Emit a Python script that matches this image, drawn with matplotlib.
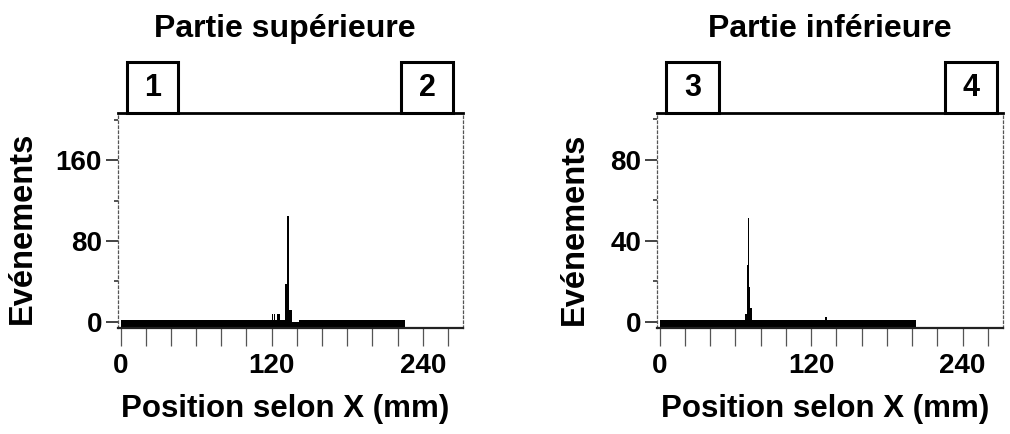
import matplotlib
matplotlib.use("Agg")
import matplotlib.pyplot as plt
from matplotlib.ticker import FixedLocator
from matplotlib.patches import Rectangle
import matplotlib.transforms as mtransforms

plt.rcParams['font.family'] = ['Liberation Sans', 'DejaVu Sans']
plt.rcParams['font.weight'] = 'bold'

# ---------------- data ----------------
titles = ["Partie supérieure", "Partie inférieure"]
box_labels = [["1", "2"], ["3", "4"]]
box_spans = [[(5, 46), (223, 264)], [(5, 47), (226, 267)]]   # mm

edges_sup = [0, 120, 121, 122, 123, 124.5, 127, 130.5, 132, 134, 136, 142, 226]
counts_sup = [2, 8, 2, 8, 2, 8, 2, 37, 105, 12, 0, 2]

edges_inf = [0, 68, 69, 70, 71, 72, 73, 131, 133, 203]
counts_inf = [1, 4, 28, 51, 17, 7, 1, 2.5, 1]

yticks_major = [[0, 80, 160], [0, 40, 80]]
yticks_minor = [[40, 120, 200], [20, 60, 100]]
ylims = [(-6, 206.5), (-3, 103)]
xticks_major = [0, 120, 240]
xticks_minor = [20, 40, 60, 80, 100, 140, 160, 180, 200, 220, 260]
xlim = (-2, 272)

ylabel = "Evénements"
xlabel = "Position selon X (mm)"

# ---------------- figure ----------------
fig = plt.figure(figsize=(10.10, 4.34), dpi=100)
H = 434.0
W = 1010.0
ax_pos = [(118, 345), (657, 346)]
top_px, bot_px = 113, 328

panels = [(edges_sup, counts_sup), (edges_inf, counts_inf)]
title_x = [0.484, 0.499]
xlabel_x = [0.484, 0.486]
ylabel_coords = [(-0.232, 0.465), (-0.194, 0.46)]

for i, (edges, counts) in enumerate(panels):
    left, width = ax_pos[i]
    ax = fig.add_axes([left / W, 1 - bot_px / H, width / W, (bot_px - top_px) / H])
    ax.set_xlim(*xlim)
    ax.set_ylim(*ylims[i])
    ax.stairs(counts, edges, baseline=ylims[i][0], fill=True, color='black')

    # spines
    ax.spines['top'].set_linewidth(2.0)
    ax.spines['top'].set_color('black')
    ax.spines['bottom'].set_linewidth(1.6)
    ax.spines['bottom'].set_color('#222222')
    for s in ('left', 'right'):
        ax.spines[s].set_linewidth(0.9)
        ax.spines[s].set_linestyle((0, (2, 2)))
        ax.spines[s].set_color('#555555')

    # ticks
    ax.xaxis.set_major_locator(FixedLocator(xticks_major))
    ax.xaxis.set_minor_locator(FixedLocator(xticks_minor))
    ax.yaxis.set_major_locator(FixedLocator(yticks_major[i]))
    ax.yaxis.set_minor_locator(FixedLocator(yticks_minor[i]))
    ax.tick_params(axis='x', which='both', direction='out', length=13, width=0.9,
                   color='#555555', pad=5, labelsize=20)
    ax.tick_params(axis='y', which='major', direction='out', length=8.5, width=1.2,
                   color='#222222', pad=3, labelsize=20)
    ax.tick_params(axis='y', which='minor', direction='out', length=3, width=1.2,
                   color='#333333')
    for lab in ax.get_xticklabels() + ax.get_yticklabels():
        lab.set_fontweight('bold')

    # labels
    ax.set_ylabel(ylabel, fontsize=23.5, fontweight='bold')
    ax.yaxis.set_label_coords(*ylabel_coords[i])
    ax.text(xlabel_x[i], -0.414, xlabel, transform=ax.transAxes, ha='center',
            va='baseline', fontsize=22.5, fontweight='bold')
    ax.text(title_x[i], 1.353, titles[i], transform=ax.transAxes, ha='center',
            va='baseline', fontsize=23, fontweight='bold')

    # numbered boxes above the top spine
    trans = mtransforms.blended_transform_factory(ax.transData, ax.transAxes)
    for (x0, x1), lab in zip(box_spans[i], box_labels[i]):
        r = Rectangle((x0, 1.0), x1 - x0, 0.237, transform=trans, fill=False,
                      edgecolor='black', linewidth=2.2, clip_on=False)
        ax.add_patch(r)
        ax.text((x0 + x1) / 2, 1.0 + 0.237 / 2, lab, transform=trans, ha='center',
                va='center', fontsize=22, fontweight='bold')

fig.savefig("out.png", dpi=100)
